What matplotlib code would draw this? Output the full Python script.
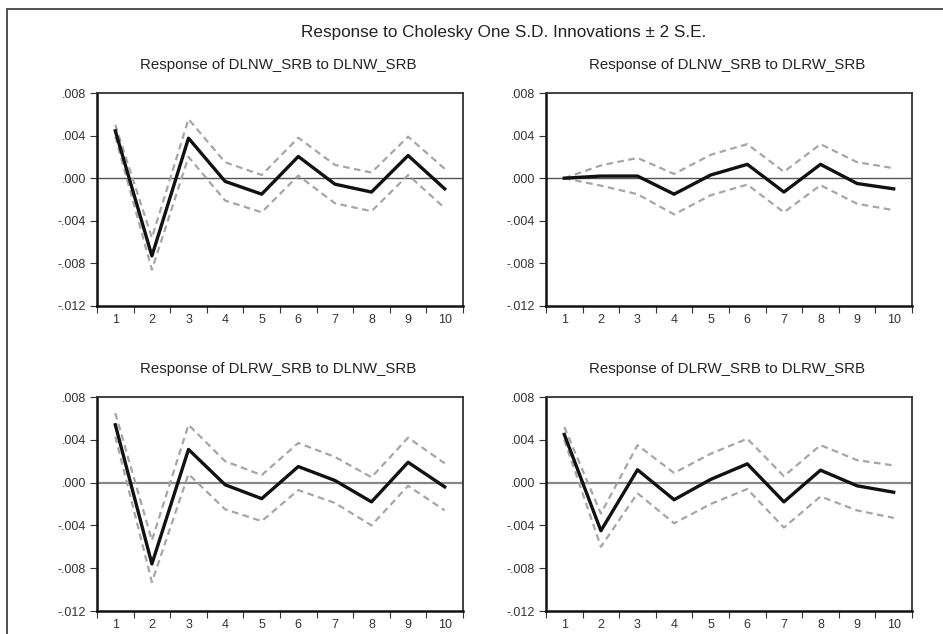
import numpy as np
import matplotlib
matplotlib.use("Agg")
import matplotlib.pyplot as plt
from matplotlib.patches import Rectangle

plt.rcParams['font.family'] = ['Liberation Sans', 'DejaVu Sans']

periods = np.arange(1, 11)
titles = [
    "Response of DLNW_SRB to DLNW_SRB",
    "Response of DLNW_SRB to DLRW_SRB",
    "Response of DLRW_SRB to DLNW_SRB",
    "Response of DLRW_SRB to DLRW_SRB",
]

# impulse responses and +/- 2 S.E. bands
resp_nn = [0.00445, -0.0073, 0.00376, -0.0003, -0.0015, 0.00204, -0.00056, -0.0013, 0.00213, -0.001]
upper_nn = [0.0050, -0.0056, 0.00555, 0.0015, 0.0003, 0.0038, 0.00125, 0.00053, 0.0039, 0.00088]
lower_nn = [0.0039, -0.0086, 0.0020, -0.0021, -0.0032, 0.00025, -0.00235, -0.0031, 0.0003, -0.0028]

resp_nr = [0.0, 0.0002, 0.0002, -0.0015, 0.0003, 0.0013, -0.0013, 0.0013, -0.0005, -0.001]
upper_nr = [0.0, 0.0012, 0.0019, 0.0004, 0.0022, 0.0032, 0.0006, 0.0032, 0.0015, 0.00094]
lower_nr = [0.0, -0.0007, -0.0015, -0.0034, -0.0016, -0.0006, -0.0032, -0.00066, -0.0024, -0.003]

resp_rn = [0.0054, -0.0076, 0.0031, -0.0002, -0.0015, 0.0015, 0.0002, -0.0018, 0.0019, -0.0004]
upper_rn = [0.0065, -0.0054, 0.0054, 0.0020, 0.0007, 0.0037, 0.0024, 0.0005, 0.0042, 0.0018]
lower_rn = [0.0043, -0.0093, 0.0008, -0.0025, -0.0036, -0.0007, -0.0019, -0.0040, -0.0003, -0.0026]

resp_rr = [0.0045, -0.0045, 0.0012, -0.0016, 0.0003, 0.00175, -0.0018, 0.00116, -0.0003, -0.0009]
upper_rr = [0.0052, -0.0029, 0.0035, 0.0009, 0.0027, 0.0041, 0.0006, 0.0035, 0.0021, 0.0016]
lower_rr = [0.0040, -0.0060, -0.0010, -0.0038, -0.0020, -0.0006, -0.0042, -0.0013, -0.0026, -0.0033]

panels = [
    (resp_nn, upper_nn, lower_nn),
    (resp_nr, upper_nr, lower_nr),
    (resp_rn, upper_rn, lower_rn),
    (resp_rr, upper_rr, lower_rr),
]

y_ticks = [0.008, 0.004, 0.0, -0.004, -0.008, -0.012]
y_labels = [".008", ".004", ".000", "-.004", "-.008", "-.012"]

W, H = 943, 634
fig = plt.figure(figsize=(W / 100, H / 100), dpi=100)

# outer frame (cropped at right and bottom in the original)
fig.patches.append(Rectangle((7 / W, -0.05), 1.2, 1 - 9 / H + 0.05,
                             transform=fig.transFigure, fill=False,
                             edgecolor='#333333', linewidth=1.2))

fig.text(504 / W, 1 - 33 / H, "Response to Cholesky One S.D. Innovations \u00b1 2 S.E.",
         ha='center', va='center', fontsize=12.3, color='#222222')

boxes = [(97, 93, 463, 306), (546, 93, 912, 306),
         (97, 397, 463, 611), (546, 397, 912, 611)]
title_y = [65, 65, 369, 369]

for i, (resp, upper, lower) in enumerate(panels):
    x0, y0, x1, y1 = boxes[i]
    ax = fig.add_axes([x0 / W, 1 - y1 / H, (x1 - x0) / W, (y1 - y0) / H])
    zero_col = '#555555' if i < 2 else '#888888'
    zero_lw = 1.0 if i < 2 else 1.6
    ax.axhline(0, color=zero_col, linewidth=zero_lw, zorder=1)
    ax.plot(periods, upper, color='#a6a6a6', linewidth=1.6, linestyle=(0, (3, 2)), zorder=2)
    ax.plot(periods, lower, color='#a6a6a6', linewidth=1.6, linestyle=(0, (3, 2)), zorder=2)
    ax.plot(periods, resp, color='#111111', linewidth=2.4, zorder=3)

    ax.set_xlim(0.5, 10.5)
    ax.set_ylim(-0.012, 0.008)
    ax.set_yticks(y_ticks)
    ax.set_yticklabels(y_labels)
    ax.set_xticks(np.arange(0.5, 11, 1.0))
    ax.set_xticklabels([])
    ax.set_xticks(periods, minor=True)
    ax.set_xticklabels([str(p) for p in periods], minor=True)
    ax.tick_params(axis='x', which='major', direction='out', length=5, width=0.8, color='#333333')
    ax.tick_params(axis='x', which='minor', length=0, pad=6, labelsize=9, labelcolor='#333333')
    ax.tick_params(axis='y', direction='out', length=5, width=0.8, color='#333333',
                   labelsize=9, labelcolor='#333333', pad=3)
    for side in ['left', 'bottom']:
        ax.spines[side].set_linewidth(1.8)
        ax.spines[side].set_color('#111111')
    for side in ['top', 'right']:
        ax.spines[side].set_linewidth(1.3)
        ax.spines[side].set_color('#333333')

    fig.text(((x0 + x1) / 2 - 2) / W, 1 - title_y[i] / H, titles[i], ha='center', va='center',
             fontsize=10.8, color='#222222')

fig.savefig("out.png", dpi=100)
